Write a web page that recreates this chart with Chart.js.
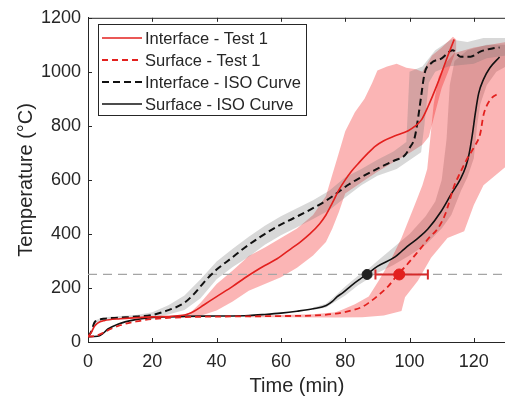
<!DOCTYPE html>
<html>
<head>
<meta charset="utf-8">
<script src="https://cdn.jsdelivr.net/npm/chart.js@4.4.1/dist/chart.umd.min.js"></script>
<style>
	html, body { margin:0; padding:0; background:#fff; overflow:hidden; }
	#wrap { position:relative; width:513px; height:398px; }
</style>
</head>
<body>
<div id="wrap"><canvas id="c" width="513" height="398"></canvas></div>
<script>
// [time (min), temperature (°C)]
const ifTest = [[0,20],[1,35],[2,58],[3,70],[5,79],[10,86],[20,93],[30,100],[33,114],[36,137],[40,168],[45,206],[48.6,236],[52,262],[55,283],[58.8,308],[63,344],[66,370],[69,400],[72,437],[74,470],[76,515],[78,562],[80,600],[82,633],[84.3,664],[87,698],[89.4,725],[92,745],[95.5,763],[99.6,782],[101.6,798],[103.7,822],[105.7,870],[108.8,959],[111.8,1056],[113.9,1120]];
const sfTest = [[0,20],[2,22],[4,30],[7,48],[10,62],[15,76],[20,85],[30,92],[40,94],[50,95],[60,96],[70,98],[77,105],[82,117],[85.3,130],[87.3,145],[90,170],[93.5,208],[96,245],[98.6,278],[101.6,320],[103.7,350],[106,385],[108.8,420],[111,470],[112,505],[113,545],[114,582],[115,608],[118,680],[120,720],[122,772],[123,840],[125,895],[128,922]];
const ifIso = [[0,20],[1,38],[2,72],[3,80],[5,86],[10,90],[15,94],[20,100],[25,118],[29.7,143],[33,178],[36,220],[38.2,248],[40,268],[45,314],[48.6,348],[53.7,390],[58.8,427],[63.9,458],[69,489],[74,523],[78,556],[81.2,584],[85,610],[91.4,650],[95,670],[98.6,692],[100,718],[101.6,757],[102.6,824],[103.5,900],[104.7,995],[106.7,1032],[110,1050],[113.4,1080],[115.9,1056],[119,1056],[122,1075],[126,1087],[128,1090]];
const sfIso = [[0,20],[3,21],[4.5,30],[6.2,48],[9.3,66],[14.4,82],[19.5,90],[25,93],[30,95],[40,96],[50,98],[55,102],[60,107],[65,114],[70,123],[74.1,135],[76,150],[77.5,168],[79.2,182],[82,210],[84.5,232],[86.8,251],[90,280],[95.5,315],[97.5,335],[100,360],[103,388],[105.7,418],[109.8,483],[112.8,544],[115.9,605],[117.5,650],[118.5,695],[119.5,765],[120.5,850],[121.5,920],[123,972],[125,1015],[128,1055]];

// shaded spread, upper and lower edges
const ifIsoUp = [[0,22],[1,42],[2,80],[5,92],[10,96],[15,100],[20,110],[25,136],[30,172],[35,232],[40,298],[45,345],[50,390],[55,430],[60,465],[65,495],[70,525],[75,560],[80,610],[85,640],[90,675],[95,705],[99,740],[100,1000],[104,1020],[108,1080],[113,1120],[118,1110],[123,1125],[130,1125]];
const ifIsoLo = [[0,18],[1,32],[2,64],[5,80],[10,84],[15,88],[20,91],[25,102],[30,118],[35,162],[40,232],[45,278],[50,316],[55,360],[60,395],[65,425],[70,455],[75,488],[80,535],[85,580],[90,615],[96,640],[103.6,702],[104.6,800],[106,960],[108,1000],[112,1020],[116,1025],[120,1030],[124,1050],[130,1060]];
const ifTestUp = [[29,98],[32,110],[35,145],[40,215],[45,265],[50,318],[55,350],[60,385],[65,420],[70,470],[74,540],[76,620],[78,700],[80,780],[83,850],[86,900],[88.4,960],[90,1005],[93,1020],[96,1030],[99,1015],[102,1010],[104,1000],[107,1060],[110,1090],[113.5,1130],[114.5,1120]];
const ifTestLo = [[29,90],[35,97],[40,117],[45,150],[50,190],[55,215],[60,240],[65,275],[70,320],[74,370],[76,420],[78,480],[80,550],[85,590],[90,630],[95,665],[100,700],[104,730],[106,760],[108,850],[110,940],[112,1000],[114.5,1080]];
const sfTestUp = [[50,96],[60,100],[70,103],[77,110],[79.2,120],[83,140],[87.3,168],[90.4,227],[94,300],[97.5,385],[101.6,507],[104,580],[105.5,640],[106.5,760],[107.5,880],[109,980],[111,1030],[114,1070],[120,1090],[130,1110]];
const sfTestLo = [[50,92],[60,92],[77,91],[85.3,92],[92,98],[97.5,115],[98.6,166],[102.6,227],[106.7,312],[111.8,385],[117,410],[120,507],[123,580],[130,650]];
const sfIsoUp = [[70,128],[74,142],[77,172],[80,205],[84,245],[87,268],[90,300],[95,350],[100,400],[105,465],[108,520],[110,600],[111.5,750],[112.5,950],[114,1040],[118,1080],[124,1100],[130,1100]];
const sfIsoLo = [[70,118],[74,128],[77,150],[80,172],[84,210],[87,232],[90,255],[95,285],[100,320],[105,360],[110,420],[113,470],[116,560],[118,610],[120,680],[121,800],[122,880],[124,950],[127,1000],[130,1020]];

const threshold = 250;
const isoCross = [86.8, 250];
const testCross = [96.8, 250];
const testCrossRange = [89.4, 105.7];

const xTicks = [0, 20, 40, 60, 80, 100, 120];
const yTicks = [0, 200, 400, 600, 800, 1000, 1200];

const red = '#e3201e';
const ink = '#262626';
const pink = 'rgba(240,0,0,0.29)';
const grey = 'rgba(110,110,110,0.27)';
const font = '"Liberation Sans", Arial, sans-serif';

const band = (up, lo, color) => ({
	data: [...up, ...lo.slice().reverse()],
	backgroundColor: color, borderWidth: 0, pointRadius: 0,
	fill: 'shape', tension: 0, order: 10,
});
const line = (data, label, color, dash, w) => ({
	label, data, inLegend: true,
	borderColor: color, borderWidth: w, borderDash: dash,
	pointRadius: 0, fill: false, cubicInterpolationMode: 'monotone', order: 1,
});

const axisTicks = {
	id: 'axisTicks',
	afterDraw(chart) {
		const {ctx, chartArea: a, scales: {x, y}} = chart;
		ctx.save();
		ctx.strokeStyle = ink; ctx.lineWidth = 1;
		ctx.beginPath();
		ctx.moveTo(a.left, a.top + 0.5); ctx.lineTo(a.right, a.top + 0.5);
		x.ticks.forEach(t => {
			const p = Math.round(x.getPixelForValue(t.value)) + 0.5;
			ctx.moveTo(p, a.bottom); ctx.lineTo(p, a.bottom - 4);
			ctx.moveTo(p, a.top); ctx.lineTo(p, a.top + 4);
		});
		y.ticks.forEach(t => {
			const p = Math.round(y.getPixelForValue(t.value)) + 0.5;
			ctx.moveTo(a.left, p); ctx.lineTo(a.left + 4, p);
		});
		ctx.stroke();

		// legend box in the upper left corner
		const items = chart.data.datasets.filter(d => d.inLegend);
		ctx.fillStyle = '#fff';
		ctx.fillRect(98.5, 24.5, 208, 91);
		ctx.strokeRect(98.5, 24.5, 208, 91);
		ctx.font = '16.5px ' + font;
		ctx.textBaseline = 'middle';
		items.forEach((d, i) => {
			const yy = 38 + i * 22;
			ctx.strokeStyle = d.borderColor;
			ctx.lineWidth = d.borderWidth;
			ctx.setLineDash(d.borderDash || []);
			ctx.beginPath(); ctx.moveTo(102, yy); ctx.lineTo(142, yy); ctx.stroke();
			ctx.setLineDash([]);
			ctx.fillStyle = ink;
			ctx.fillText(d.label, 145, yy + 1);
		});
		ctx.restore();
	}
};

new Chart(document.getElementById('c'), {
	type: 'line',
	data: {
		datasets: [
			line(ifTest, 'Interface - Test 1', red, [], 1.6),
			line(sfTest, 'Surface - Test 1', red, [6, 4], 1.8),
			line(ifIso, 'Interface - ISO Curve', '#111', [7, 4], 2),
			line(sfIso, 'Surface - ISO Curve', '#111', [], 1.6),
			{data: [isoCross], pointRadius: 5, pointBackgroundColor: '#222', pointBorderColor: '#222', showLine: false, order: 0},
			{data: [testCross], pointRadius: 5.5, pointBackgroundColor: red, pointBorderColor: red, showLine: false, order: 0},
			{data: testCrossRange.map(v => [v, testCross[1]]), borderColor: '#d42a2a', borderWidth: 2,
				pointStyle: 'line', rotation: 90, pointRadius: 5, pointBorderWidth: 2, pointBorderColor: '#d42a2a', order: 0},
			{data: [[0, threshold], [130, threshold]], borderColor: '#a5a5a5', borderWidth: 1.2, borderDash: [9, 6], pointRadius: 0, order: 2},
			band(ifIsoUp, ifIsoLo, grey),
			band(ifTestUp, ifTestLo, pink),
			band(sfTestUp, sfTestLo, pink),
			band(sfIsoUp, sfIsoLo, grey),
		]
	},
	options: {
		responsive: false,
		animation: false,
		layout: { padding: { top: 14, right: 0, left: 0, bottom: 0 } },
		plugins: { legend: { display: false }, tooltip: { enabled: false } },
		scales: {
			x: {
				type: 'linear', min: 0, max: 130,
				afterBuildTicks: s => { s.ticks = xTicks.map(v => ({value: v})); },
				afterFit: s => { s.height = 56; },
				grid: { display: false, drawTicks: false },
				border: { display: true, color: ink, width: 1 },
				ticks: { color: ink, padding: 9, font: { family: font, size: 18 }, callback: v => String(v) },
				title: { display: true, text: 'Time (min)', color: ink, padding: { top: 0, bottom: 0 }, font: { family: font, size: 20 } },
			},
			y: {
				min: 0, max: 1200,
				afterBuildTicks: s => { s.ticks = yTicks.map(v => ({value: v})); },
				afterFit: s => { s.width = 88; },
				grid: { display: false, drawTicks: false },
				border: { display: true, color: ink, width: 1 },
				ticks: { color: ink, padding: 7, font: { family: font, size: 18 }, callback: v => String(v) },
				title: { display: true, text: 'Temperature (°C)', color: ink, padding: { top: 14, bottom: 0 }, font: { family: font, size: 20 } },
			}
		}
	},
	plugins: [axisTicks]
});
</script>
</body>
</html>
